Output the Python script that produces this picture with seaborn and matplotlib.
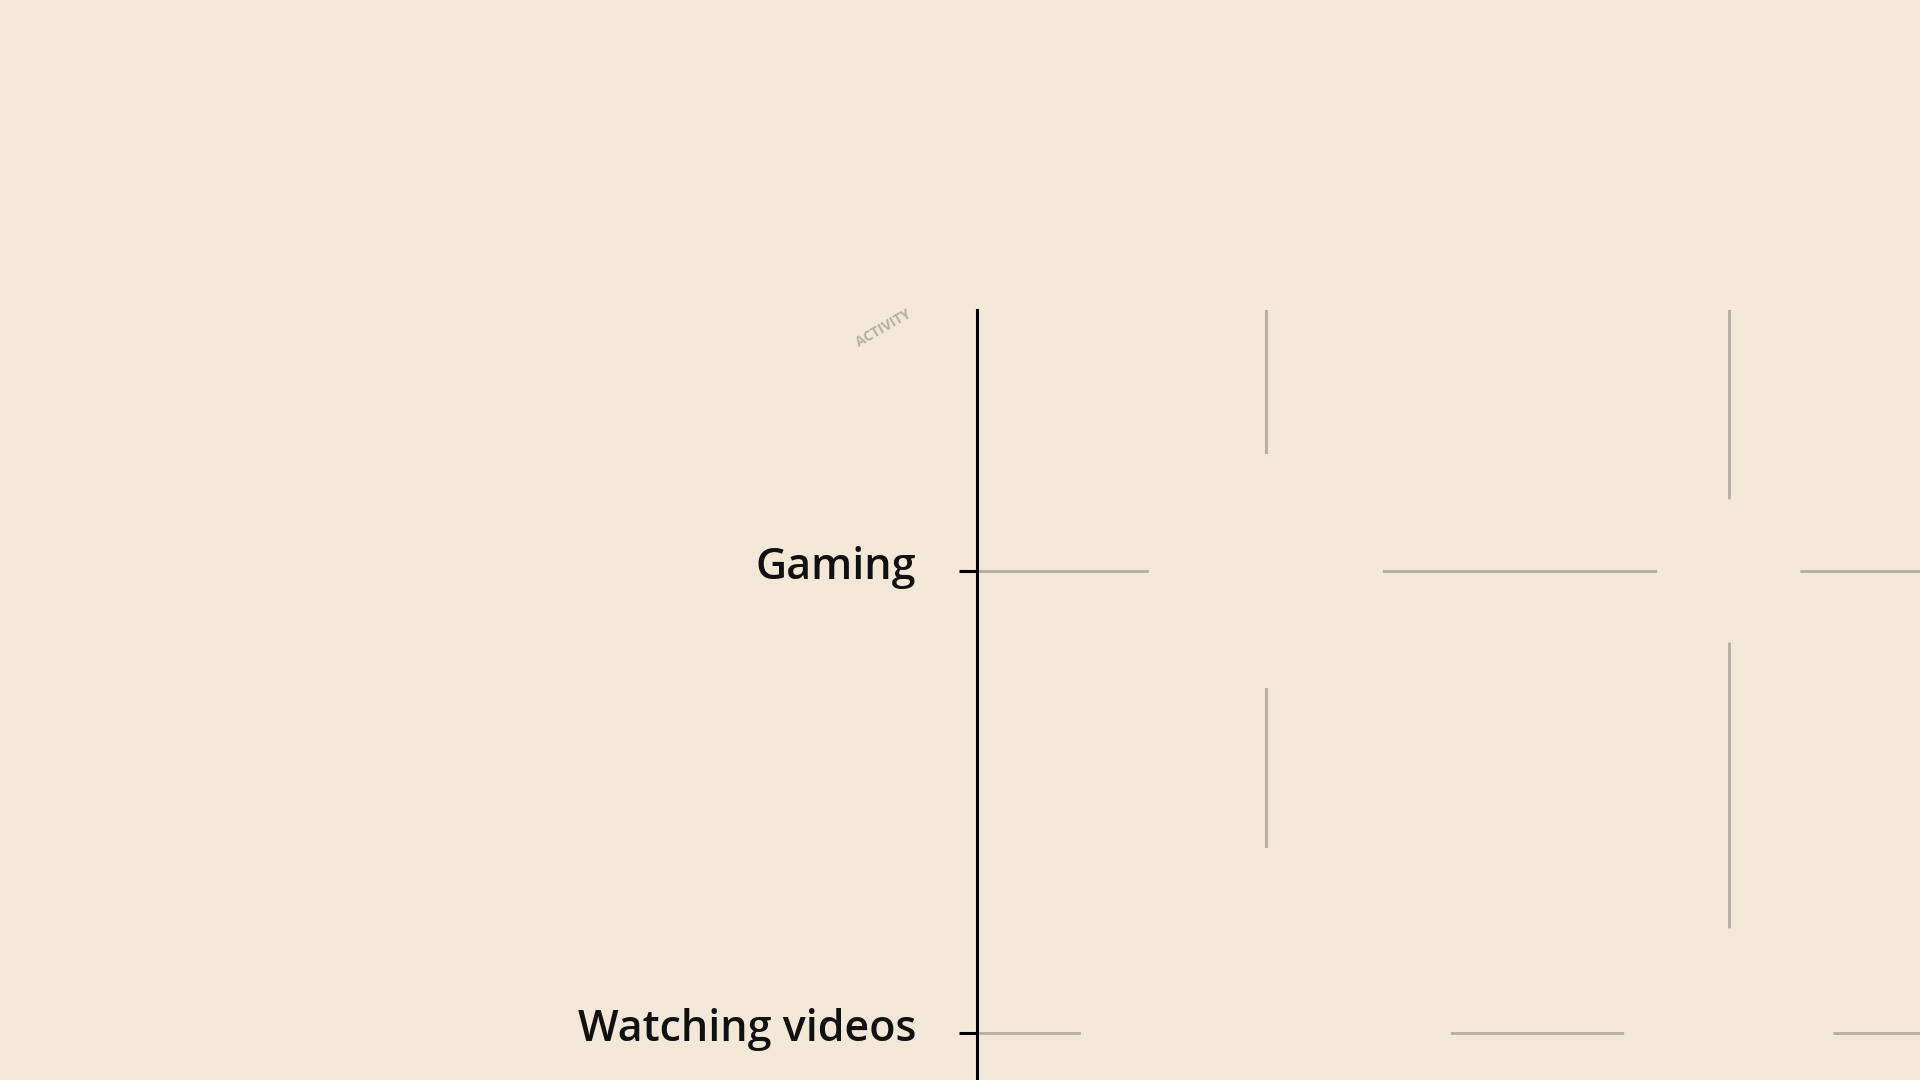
import matplotlib
matplotlib.use("Agg")
import matplotlib.pyplot as plt
import matplotlib.transforms as mtransforms
import seaborn as sns
import pandas as pd

activities = ["Gaming", "Gaming", "Watching videos", "Watching videos"]
hours = [10, 20, 10, 20]
minutes = [40, 15, 100, 32]
x_ticks = [10, 20, 30]
axis_title = "ACTIVITY"

BG = "#f3e7d8"
GRID = "#b5ada3"

sns.set_theme(style="white")
plt.rcParams["font.family"] = ["Open Sans", "DejaVu Sans"]

df = pd.DataFrame({"activity": activities, "hours": hours, "minutes": minutes})

fig = plt.figure(figsize=(19.2, 10.8), dpi=100, facecolor=BG)
ax = fig.add_axes([977 / 1920, 1 - 310 / 1080 - 954 / 1080, (1920 - 977) / 1920, 954 / 1080])
ax.set_facecolor(BG)

sns.scatterplot(data=df, x="hours", y="activity", size="minutes",
                sizes=(0, 70969), size_norm=(0, 100), color=BG,
                edgecolor="none", linewidth=0, legend=False, ax=ax, zorder=3)

ax.set_xticks(x_ticks)
ax.set_xlim(3.76, 24.13)
ax.set_ylim(1.5, -0.565)
ax.set_xticklabels([])
ax.tick_params(axis="x", length=0)
ax.grid(True, color=GRID, linewidth=2.0)
ax.set_axisbelow(True)

for s in ["top", "right", "bottom"]:
    ax.spines[s].set_visible(False)
ax.spines["left"].set_color("black")
ax.spines["left"].set_linewidth(2.2)
ax.spines["left"].set_zorder(5)

ax.tick_params(axis="y", length=13, width=2.2, color="black", pad=31,
               labelsize=31, labelcolor="#111111", left=True)
shift = mtransforms.ScaledTranslation(0, 6 / 72, fig.dpi_scale_trans)
for t in ax.get_yticklabels():
    t.set_fontweight("semibold")
    t.set_transform(t.get_transform() + shift)

ax.set_xlabel("")
ax.set_ylabel("")

fig.text(883 / 1920, 1 - 328 / 1080, axis_title, rotation=30, ha="center", va="center",
         fontsize=10, fontweight="bold", color="#b8afa3")

fig.savefig("out.png", dpi=100, facecolor=BG)
